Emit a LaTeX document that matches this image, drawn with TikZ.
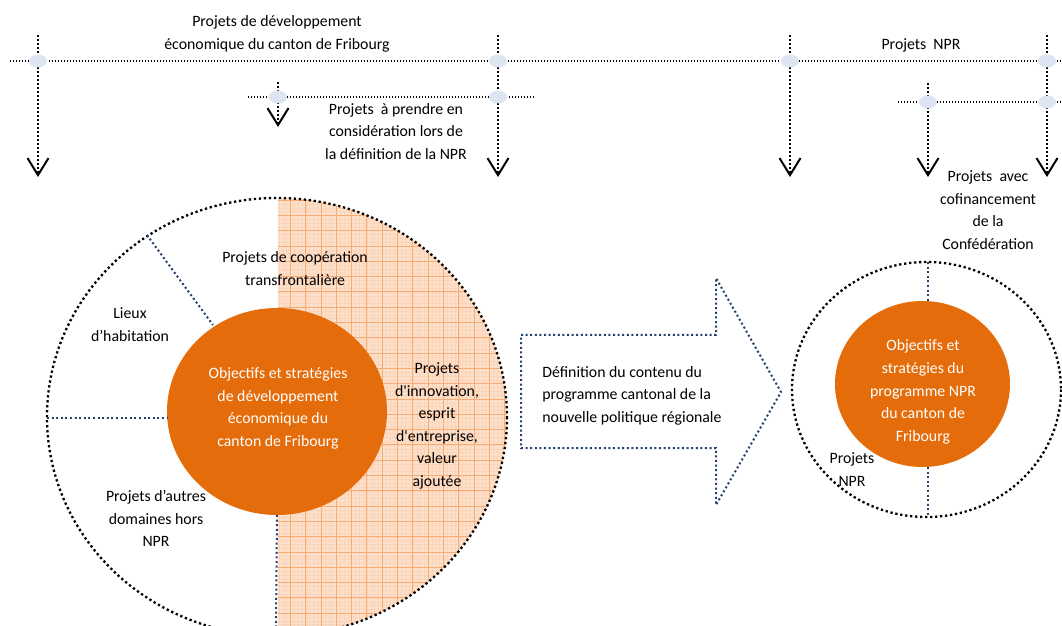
\documentclass[tikz,border=0pt]{standalone}
\usepackage{fontspec}
\newfontfamily\carl{Carlito}
\usepackage{tikz}
\usepackage{xcolor}
\usetikzlibrary{arrows.meta}
\usetikzlibrary{backgrounds}
\usetikzlibrary{shapes}
\definecolor{knotblue}{RGB}{220,229,241}
\definecolor{splitblue}{RGB}{36,64,110}
\definecolor{objorange}{RGB}{228,108,10}
\definecolor{gridfill}{RGB}{253,224,202}
\definecolor{gridmajor}{RGB}{247,172,118}
\definecolor{gridminor}{RGB}{252,212,186}
\tikzset{txt/.style={font=\carl\fontsize{7.9}{11.3}\selectfont,align=center,inner sep=0pt},
 wtxt/.style={txt,text=white},
 knot/.style={ellipse,fill=knotblue,minimum width=9pt,minimum height=6.5pt,inner sep=0pt},
 rail/.style={dash pattern=on 0.65pt off 0.85pt,line width=0.65pt},
 drop/.style={dash pattern=on 0.9pt off 1.1pt,line width=0.9pt,
   -{Straight Barb[length=8.5pt,width=10.5pt,line width=1pt]}},
 ring/.style={dash pattern=on 1.15pt off 1.35pt,line width=1.15pt},
 split/.style={splitblue,dash pattern=on 1pt off 1.3pt,line width=1pt},
 }

\begin{document}
\begin{tikzpicture}[x=0.5pt,y=-0.5pt]
    \useasboundingbox (0,0) rectangle (1062,626);
    \node[knot] (d1) at (38,61) {};
    \node[knot] (d2) at (498,61) {};
    \node[knot] (d3) at (790,61) {};
    \node[knot] (d4) at (1047,61) {};
    \node[knot] (e1) at (278,97) {};
    \node[knot] (e2) at (498,97) {};
    \node[knot] (e3) at (928,102) {};
    \node[knot] (e4) at (1047,102) {};
    \coordinate (railA) at (10,61);
    \coordinate (railB) at (1062,61);
    \coordinate (railC) at (248,97);
    \coordinate (railD) at (535,97);
    \coordinate (railE) at (898,102);
    \coordinate (railF) at (1062,102);
    \coordinate (top1) at (38,35);
    \coordinate (end1) at (38,177);
    \coordinate (top2) at (498,35);
    \coordinate (end2) at (498,177);
    \coordinate (top3) at (278,82);
    \coordinate (end3) at (278,127);
    \coordinate (top4) at (790,35);
    \coordinate (end4) at (790,177);
    \coordinate (top5) at (928,83);
    \coordinate (end5) at (928,177);
    \coordinate (top6) at (1047,35);
    \coordinate (end6) at (1047,177);
    \begin{scope}[on background layer]
        \draw[rail] (railA) -- (railB);
        \draw[rail] (railC) -- (railD);
        \draw[rail] (railE) -- (railF);
        \foreach \i in {1,...,6}
            \draw[drop] (top\i) -- (end\i);
    \end{scope}
    \node[txt] (devFR) at (277,34) {Projets de développement\\économique du canton de Fribourg};
    \node[txt] (prendre) at (396,131.5) {Projets\ \ à prendre en\\considération lors de\\la définition de la NPR};
    \node[txt] (npr) at (921,45) {Projets\ \ NPR};
    \node[txt] (cofin) at (988,210) {Projets\ \ avec\\cofinancement\\de la\\Confédération};

    \begin{scope}
        \clip (277,417) ellipse [x radius=230, y radius=219];
        \fill[gridfill] (278,190) rectangle (510,640);
        \foreach \x in {279,282.825,...,510}
            \draw[gridminor,line width=0.2pt] (\x,190) -- (\x,640);
        \foreach \y in {192.45,196.275,...,640}
            \draw[gridminor,line width=0.2pt] (278,\y) -- (510,\y);
        \foreach \x in {290.4,305.7,...,510}
            \draw[gridmajor,line width=0.45pt] (\x,190) -- (\x,640);
        \foreach \y in {200.1,215.4,...,640}
            \draw[gridmajor,line width=0.45pt] (278,\y) -- (510,\y);
    \end{scope}
    \draw[ring] (277,417) ellipse [x radius=230, y radius=219];
    \fill[objorange] (277,411.5) ellipse [x radius=110, y radius=103.5];
    \draw[split] (147,235) -- (213,325);
    \draw[split] (47,418) -- (167,418);
    \draw[split] (277,515) -- (276,626);
    \node[txt] (coop) at (295,268.5) {Projets de coopération\\transfrontalière};
    \node[txt] (lieux) at (130,324.5) {Lieux\\d’habitation};
    \node[txt] (autres) at (156,518.5) {Projets d’autres\\domaines hors\\NPR};
    \node[txt] (innov) at (437,426) {Projets\\d'innovation,\\esprit\\d'entreprise,\\valeur\\ajoutée};
    \node[wtxt] (objFR) at (278,408.5) {Objectifs et stratégies\\de développement\\économique du\\canton de Fribourg};

    \draw[split] (521,335) -- (716,335) -- (716,278) -- (781,392) -- (716,505) -- (716,448) -- (521,448) -- cycle;
    \node[txt,anchor=west,align=left] (defin) at (542,395.5) {Définition du contenu du\\programme cantonal de la\\nouvelle politique régionale};

    \draw[ring] (926.5,389.5) ellipse [x radius=134.5, y radius=127.5];
    \fill[objorange] (922.5,384) ellipse [x radius=87.5, y radius=83];
    \draw[split] (928,262) -- (928,301);
    \draw[split] (928,467) -- (928,517);
    \node[wtxt] (objNPR) at (923,392) {Objectifs et\\stratégies du\\programme NPR\\du canton de\\Fribourg};
    \node[txt] (projNPR) at (852,469.5) {Projets\\NPR};
\end{tikzpicture}
\end{document}
